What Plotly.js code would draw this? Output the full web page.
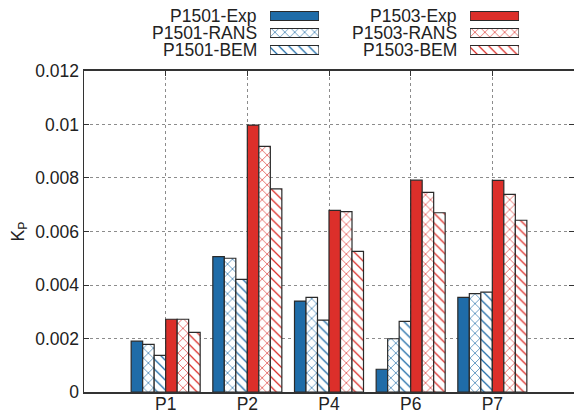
<!DOCTYPE html>
<html>
<head>
<meta charset="utf-8">
<script src="https://cdn.plot.ly/plotly-3.0.1.min.js"></script>
<style>html,body{margin:0;padding:0;overflow:hidden;background:#fff}</style>
</head>
<body>
<div id="chart" style="width:574px;height:412px"></div>
<script>
// ---- data ----
const categories = ['P1', 'P2', 'P4', 'P6', 'P7'];
const p1501Exp  = [0.00190, 0.00506, 0.00340, 0.00085, 0.00354];
const p1501RANS = [0.00178, 0.00500, 0.00354, 0.00199, 0.00368];
const p1501BEM  = [0.00137, 0.00421, 0.00269, 0.00264, 0.00373];
const p1503Exp  = [0.00272, 0.00998, 0.00679, 0.00792, 0.00791];
const p1503RANS = [0.00272, 0.00918, 0.00674, 0.00746, 0.00739];
const p1503BEM  = [0.00223, 0.00759, 0.00526, 0.00670, 0.00642];
const seriesNames = ['P1501-Exp', 'P1501-RANS', 'P1501-BEM', 'P1503-Exp', 'P1503-RANS', 'P1503-BEM'];
const legendRows = ['Exp', 'RANS', 'BEM'];
const yTickVals = [0, 0.002, 0.004, 0.006, 0.008, 0.01, 0.012];
const yTickText = ['0', '0.002', '0.004', '0.006', '0.008', '0.01', '0.012'];

// ---- style ----
const BLUE = '#1f6ca8';
const RED = '#dc2f2a';
const EDGE = '#2a2a2a';
const FONT = {family: 'Liberation Sans, Arial, sans-serif', size: 17.5, color: '#222'};
const seriesData = [p1501Exp, p1501RANS, p1501BEM, p1503Exp, p1503RANS, p1503BEM];
const colorOf = i => (i < 3 ? BLUE : RED);
const shapeOf = i => ['', 'x', '\\'][i % 3];

function markerFor(i) {
  const shape = shapeOf(i);
  if (!shape) return {color: colorOf(i), line: {color: EDGE, width: 1.2}};
  return {
    color: '#ffffff',
    line: {color: EDGE, width: 1.2},
    pattern: {shape: shape, fgcolor: colorOf(i), bgcolor: '#ffffff', size: 7, solidity: 0.18, fillmode: 'replace'}
  };
}

const traces = seriesData.map((vals, i) => ({
  type: 'bar', x: categories, y: vals, name: seriesNames[i],
  marker: markerFor(i), showlegend: false, hoverinfo: 'x+y+name'
}));

// legend swatches (custom legend, text left of swatch)
seriesNames.forEach((nm, i) => {
  traces.push({
    type: 'bar', orientation: 'h', x: [1], y: [legendRows[i % 3]],
    xaxis: i < 3 ? 'x2' : 'x3', yaxis: 'y2', width: 0.53,
    marker: markerFor(i), showlegend: false, hoverinfo: 'skip'
  });
});

const annotations = seriesNames.map((nm, i) => ({
  text: nm, xref: 'paper', yref: 'y2',
  x: i < 3 ? 0.355 : 0.763, y: legendRows[i % 3],
  xanchor: 'right', yanchor: 'middle', showarrow: false, font: FONT,
  borderpad: 0
}));

const layout = {
  width: 574, height: 412,
  margin: {l: 84, r: 0, t: 0, b: 20},
  paper_bgcolor: '#ffffff', plot_bgcolor: '#ffffff',
  font: FONT,
  barmode: 'group', bargap: 0.155, bargroupgap: 0,
  showlegend: false,
  xaxis: {
    type: 'category', range: [-1, 5], domain: [0, 1],
    showline: true, linecolor: '#333', linewidth: 1.5, mirror: 'ticks',
    ticks: 'inside', ticklen: 5, tickcolor: '#333',
    showgrid: true, gridcolor: '#8c8c8c', griddash: 'dot', gridwidth: 1,
    tickfont: FONT, ticklabelstandoff: -5, fixedrange: true
  },
  yaxis: {
    range: [0, 0.012], domain: [0, 0.8189],
    tickvals: yTickVals, ticktext: yTickText,
    showline: true, linecolor: '#333', linewidth: 1.5, mirror: 'ticks',
    ticks: 'inside', ticklen: 5, tickcolor: '#333',
    showgrid: true, gridcolor: '#8c8c8c', griddash: 'dot', gridwidth: 1,
    zeroline: false, tickfont: FONT,
    title: {text: 'K<sub>P</sub>', font: FONT, standoff: 6},
    fixedrange: true
  },
  xaxis2: {domain: [0.3796, 0.4796], range: [0, 1], anchor: 'y2', visible: false, fixedrange: true},
  xaxis3: {domain: [0.7878, 0.8878], range: [0, 1], anchor: 'y2', visible: false, fixedrange: true},
  yaxis2: {domain: [0.8508, 0.9809], type: 'category', categoryarray: legendRows, categoryorder: 'array',
           range: [2.5, -0.5], autorange: false, anchor: 'x2', visible: false, fixedrange: true},
  annotations: annotations
};

Plotly.newPlot('chart', traces, layout, {displayModeBar: false, staticPlot: true});
</script>
</body>
</html>
